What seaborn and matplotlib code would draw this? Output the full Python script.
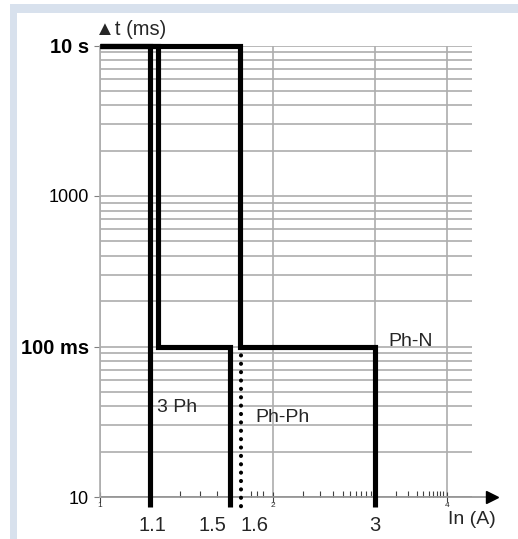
import numpy as np
import matplotlib
matplotlib.use('Agg')
import matplotlib.pyplot as plt
import matplotlib.transforms as mtransforms
from matplotlib.patches import Rectangle
from matplotlib.ticker import LogLocator, FixedLocator, NullFormatter
import seaborn as sns

# -------------------- DATA (I/In, t in ms) --------------------
inst_x = [1.0, 1.219, 1.219]
inst_y = [10000, 10000, 8.6]
ph3_x = [1.0, 1.259, 1.259, 1.679, 1.679]
ph3_y = [10000, 10000, 100, 100, 8.6]
phn_x = [1.0, 1.747, 1.747, 3.0, 3.0]
phn_y = [10000, 10000, 100, 100, 8.6]
phph_x = [1.758, 1.758]
phph_y = [100, 8.6]

y_ticks = [10, 100, 1000, 10000]
y_labels = ['10', '100 ms', '1000', '10 s']
y_bold = [False, True, False, True]

x_ticks = [1, 2, 3, 4]
x_tick_labels = ['1', '2', '3', '4']
x_minor = [1.377, 1.491, 1.596, 1.829, 1.874, 1.919,
           2.251, 2.409, 2.538, 2.642, 2.717, 2.783, 2.839, 2.896, 2.954,
           3.265, 3.426, 3.550, 3.637, 3.726, 3.786, 3.847, 3.894, 3.940]

setting_x = [1.231, 1.565, 1.851, 3.0]
setting_labels = ['1.1', '1.5', '1.6', '3']

curve_names = ['3 Ph', 'Ph-Ph', 'Ph-N']
name_x = [1.256, 1.858, 3.162]
name_y = [39.5, 33.9, 108]

# -------------------- STYLE --------------------
sns.set_theme(style='white')
plt.rcParams['font.family'] = ['Liberation Sans', 'DejaVu Sans']

GRID = '#adadad'
fig = plt.figure(figsize=(5.18, 5.39), dpi=100)

# light blue frame around the panel
fig.add_artist(Rectangle((10 / 518, 0), 1, (539 - 4) / 539, transform=fig.transFigure,
                         facecolor='#d8e1ed', edgecolor='none', zorder=-2))
fig.add_artist(Rectangle((17 / 518, 0), 1, (539 - 13) / 539, transform=fig.transFigure,
                         facecolor='white', edgecolor='none', zorder=-1))

ax = fig.add_axes([100 / 518, (539 - 497) / 539, 372.3 / 518, 451.5 / 539])
ax.patch.set_alpha(0)
ax.set_xscale('log')
ax.set_yscale('log')
ax.set_xlim(1, 4.43)
ax.set_ylim(10, 10000)

# -------------------- CURVES --------------------
line_kw = dict(color='black', linewidth=3.7, sort=False, estimator=None, ax=ax,
               solid_joinstyle='miter', solid_capstyle='butt')
for xs, ys in [(inst_x, inst_y), (ph3_x, ph3_y), (phn_x, phn_y)]:
    sns.lineplot(x=xs, y=ys, **line_kw)
    ax.lines[-1].set_clip_on(False)
    ax.lines[-1].set_zorder(4)

sns.lineplot(x=phph_x, y=phph_y, color='black', linewidth=3.0, sort=False,
             estimator=None, ax=ax)
dots = ax.lines[-1]
dots.set_linestyle((0, (0.01, 2.0)))
dots.set_dash_capstyle('round')
dots.set_clip_on(False)
dots.set_zorder(3)

# -------------------- AXES / GRID --------------------
ax.yaxis.set_minor_locator(LogLocator(base=10, subs=np.arange(2, 10)))
ax.yaxis.set_minor_formatter(NullFormatter())
ax.set_yticks(y_ticks, labels=y_labels)
for lbl, b in zip(ax.get_yticklabels(), y_bold):
    lbl.set_fontweight('bold' if b else 'normal')
    lbl.set_fontsize(14.5 if b else 13)
ax.tick_params(axis='y', which='major', direction='out', length=4, width=0.8,
               color='#808080', pad=4, labelcolor='black', left=True)
ax.tick_params(axis='y', which='minor', length=0)

ax.set_xticks(x_ticks, labels=x_tick_labels)
ax.xaxis.set_minor_locator(FixedLocator(x_minor))
ax.xaxis.set_minor_formatter(NullFormatter())
ax.tick_params(axis='x', which='major', direction='inout', length=7, width=0.8,
               color='#404040', labelsize=6, pad=0, bottom=True)
ax.tick_params(axis='x', which='minor', direction='in', length=4, width=0.8,
               color='#404040', bottom=True)

ax.yaxis.grid(True, which='both', color=GRID, linewidth=1.2)
ax.xaxis.grid(True, which='major', color=GRID, linewidth=1.2)
ax.set_axisbelow(True)

for side in ['top', 'right', 'bottom']:
    ax.spines[side].set_visible(False)
ax.spines['left'].set_color(GRID)
ax.spines['left'].set_linewidth(1.2)

# x axis with arrow
ax.plot([0, 1.04], [0, 0], transform=ax.transAxes, color='#909090',
        linewidth=1.2, clip_on=False, zorder=2)
ax.plot([1.052], [0], transform=ax.transAxes, marker='>', markersize=9,
        color='black', clip_on=False, zorder=2)

# -------------------- TEXT --------------------
ax.text(-0.013, 1.0365, '\u25b2t (ms)', transform=ax.transAxes, fontsize=14.5,
        ha='left', va='center')
ax.text(1.0, -0.049, 'In (A)', transform=ax.transAxes, fontsize=14,
        ha='center', va='center')

blend = mtransforms.blended_transform_factory(ax.transData, ax.transAxes)
for xv, txt in zip(setting_x, setting_labels):
    ax.text(xv, -0.064, txt, transform=blend, fontsize=14.5, ha='center', va='center')

for xv, yv, txt in zip(name_x, name_y, curve_names):
    ax.text(xv, yv, txt, fontsize=14, ha='left', va='center')

ax.set_xlabel('')
ax.set_ylabel('')
fig.savefig('out.png', dpi=100)
